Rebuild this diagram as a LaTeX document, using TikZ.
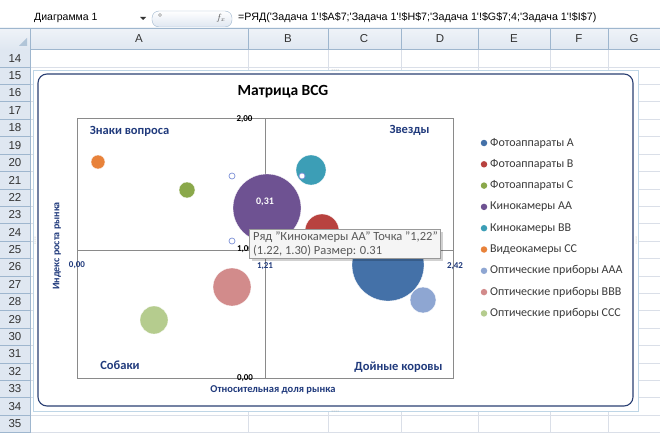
\documentclass[tikz,border=0pt]{standalone}
\usepackage{fontspec}
\setmainfont{Carlito}
\newfontfamily\xlfont{Liberation Sans}
\usetikzlibrary{positioning}

\definecolor{hdrfill}{HTML}{DFE7F1}
\definecolor{hdrline}{HTML}{9EB6CE}
\definecolor{gridc}{HTML}{DADFE8}
\definecolor{navyc}{HTML}{203A7C}
\definecolor{framec}{HTML}{2A3F73}
\definecolor{selc}{HTML}{BFD6E6}
\definecolor{axisc}{HTML}{8A8A8A}
\definecolor{legc}{HTML}{3A3A3A}
% series colours
\definecolor{cfotoA}{HTML}{4471A8}
\definecolor{cfotoB}{HTML}{B8423F}
\definecolor{cfotoC}{HTML}{8AA84A}
\definecolor{ckinoAA}{HTML}{6E5292}
\definecolor{ckinoBB}{HTML}{3C9EB6}
\definecolor{cvideoCC}{HTML}{E8823A}
\definecolor{coptAAA}{HTML}{8EA6D2}
\definecolor{coptBBB}{HTML}{D28B8B}
\definecolor{coptCCC}{HTML}{B5CC8E}

\begin{document}
\begin{tikzpicture}[x=1pt,y=-1pt,
	bub/.style={circle, inner sep=0pt, draw=white, line width=0.3pt},
	quadlabel/.style={font=\bfseries\fontsize{12.5}{14}\selectfont, text=navyc},
	ticklabel/.style={font=\bfseries\fontsize{9}{10}\selectfont, inner sep=0pt},
	legtext/.style={anchor=west, font=\fontsize{12}{13}\selectfont, text=legc, inner sep=0pt},
	legdot/.style={circle, inner sep=0pt, minimum size=6.5pt},
	hdrtext/.style={font=\xlfont\fontsize{11.5}{12}\selectfont, text=black!80},
	handle/.style={circle, draw=hdrline!80!blue, fill=white, inner sep=0pt, minimum size=6pt, line width=0.7pt}]
	\useasboundingbox (0,0) rectangle (660,433);
	\fill [white] (0,0) rectangle (660,433);

	% formula bar
	\node [anchor=west, font=\xlfont\fontsize{10.5}{12}\selectfont, inner sep=0pt] (namebox) at (34,18) {Диаграмма 1};
	\fill [black!80] (140,17) -- (146,17) -- (143,20) -- cycle;
	\draw [hdrline, top color=white, bottom color=hdrfill, rounded corners=7pt] (152,11) rectangle (232,27);
	\draw [black!40] (160,15) circle (1.5);
	\node [font=\itshape\fontsize{9}{10}\selectfont, text=black!70] (fxmark) at (221,18) {$f_x$};
	\node [anchor=west, font=\xlfont\fontsize{10.7}{12}\selectfont, inner sep=0pt] (formula) at (238,18) {=РЯД('Задача 1'!\$A\$7;'Задача 1'!\$H\$7;'Задача 1'!\$G\$7;4;'Задача 1'!\$I\$7)};

	% sheet grid
	\foreach \k in {0,...,22}
		\draw [gridc] (30,49.5+\k*17.4) -- (660,49.5+\k*17.4);
	\foreach \cx in {248,328,401,478,550,608}
		\draw [gridc] (\cx,49.5) -- (\cx,433);
	% column header
	\fill [top color=white!50!hdrfill, bottom color=hdrfill] (0,28) rectangle (660,49.5);
	\draw [hdrline] (0,28) -- (660,28);
	\draw [hdrline] (0,49.5) -- (660,49.5);
	\foreach \cx in {30,248,328,401,478,550,608}
		\draw [hdrline] (\cx,28) -- (\cx,49.5);
	\fill [hdrline!80] (19,46) -- (27,46) -- (27,38) -- cycle;
	\foreach \col/\cx in {A/139,B/288,C/364,D/440,E/514,F/579,G/634}
		\node [hdrtext] (col\col) at (\cx,39) {\col};
	% row header
	\fill [hdrfill] (0,49.5) rectangle (30,433);
	\draw [hdrline] (30,49.5) -- (30,433);
	\foreach \r [count=\k from 0] in {14,...,35} {
		\draw [hdrline] (0,49.5+\k*17.4+17.4) -- (30,49.5+\k*17.4+17.4);
		\node [hdrtext] (row\r) at (15,58.2+\k*17.4) {\r};
	}

	% chart area
	\draw [selc, fill=white, line width=0.8pt] (33,70) rectangle (638,411);
	\foreach \gx/\gy in {335/70,335/411}
		\foreach \d in {-3,-1,1,3}
			\fill [black!35] (\gx+\d,\gy) circle (0.5);
	\foreach \gx/\gy in {35/240,636/240}
		\foreach \d in {-3,-1,1,3}
			\fill [black!35] (\gx,\gy+\d) circle (0.5);
	\draw [framec, line width=1.1pt, rounded corners=9pt] (38,74) rectangle (633,406);

	\node [font=\bfseries\fontsize{15.5}{17}\selectfont] (title) at (283,92) {Матрица BCG};

	% plot area and axes
	\draw [axisc, line width=0.9pt] (77,118) rectangle (453,378);
	\draw [axisc, line width=0.9pt] (265,118) -- (265,378);
	\draw [axisc, line width=0.9pt] (77,250) -- (453,250);

	\node [ticklabel] (y200) at (244.5,119) {2,00};
	\node [ticklabel] (y100) at (245,249) {1,00};
	\node [ticklabel] (y000) at (245,378) {0,00};
	\node [ticklabel, text=navyc] (x000) at (77,265) {0,00};
	\node [ticklabel, text=navyc] (x121) at (265,266) {1,21};
	\node [ticklabel, text=navyc] (x242) at (455,266) {2,42};

	\node [quadlabel] (qmark) at (129.5,131) {Знаки вопроса};
	\node [quadlabel] (stars) at (409.5,130) {Звезды};
	\node [quadlabel] (dogs) at (120,365) {Собаки};
	\node [quadlabel] (cows) at (398.5,367) {Дойные коровы};

	\node [font=\bfseries\fontsize{10.5}{12}\selectfont, text=navyc] (xtitle) at (273,390) {Относительная доля рынка};
	\node [font=\bfseries\fontsize{10}{12}\selectfont, text=navyc, rotate=90] (ytitle) at (57,246) {Индекс роста рынка};

	% bubbles
	\node [bub, fill=cfotoA, minimum size=72pt] (fotoA) at (388,265) {};
	\node [bub, fill=cfotoB, minimum size=34pt] (fotoB) at (322,231) {};
	\node [bub, fill=cfotoC, minimum size=16pt] (fotoC) at (187,190) {};
	\node [bub, fill=ckinoAA, minimum size=68pt] (kinoAA) at (267,208) {};
	\node [bub, fill=ckinoBB, minimum size=30pt] (kinoBB) at (311,170) {};
	\node [bub, fill=cvideoCC, minimum size=14pt] (videoCC) at (98,162) {};
	\node [bub, fill=coptAAA, minimum size=26pt] (optAAA) at (423,300) {};
	\node [bub, fill=coptBBB, minimum size=38pt] (optBBB) at (232,287) {};
	\node [bub, fill=coptCCC, minimum size=28pt] (optCCC) at (154,320) {};
	\node [font=\bfseries\fontsize{10}{11}\selectfont, text=white] (kinoval) at (265,202) {0,31};

	% selection handles
	\node [handle] (hA) at (232,176) {};
	\node [handle] (hB) at (302,176) {};
	\node [handle] (hC) at (232,241) {};
	\node [handle] (hD) at (302,241) {};

	% tooltip
	\fill [black, opacity=0.18] (252,232) rectangle (443,261);
	\draw [black!40, fill=black!4] (249,229) rectangle (440,258);
	\node [anchor=west, font=\fontsize{12.5}{13}\selectfont, text=black!65, inner sep=0pt] (tip1) at (253,237) {Ряд "Кинокамеры АА" Точка "1,22"};
	\node [anchor=west, font=\fontsize{12.5}{13}\selectfont, text=black!65, inner sep=0pt] (tip2) at (253,250.5) {(1.22, 1.30) Размер: 0.31};

	% legend
	\foreach \c/\t [count=\i from 0] in {cfotoA/Фотоаппараты А, cfotoB/Фотоаппараты В, cfotoC/Фотоаппараты С, ckinoAA/Кинокамеры АА, ckinoBB/Кинокамеры ВВ, cvideoCC/Видеокамеры СС, coptAAA/Оптические приборы ААА, coptBBB/Оптические приборы ВВВ, coptCCC/Оптические приборы ССС} {
		\node [legdot, fill=\c] (ld\i) at (484,143+\i*21.3) {};
		\node [legtext] (lt\i) at (490,143+\i*21.3) {\t};
	}
\end{tikzpicture}
\end{document}
